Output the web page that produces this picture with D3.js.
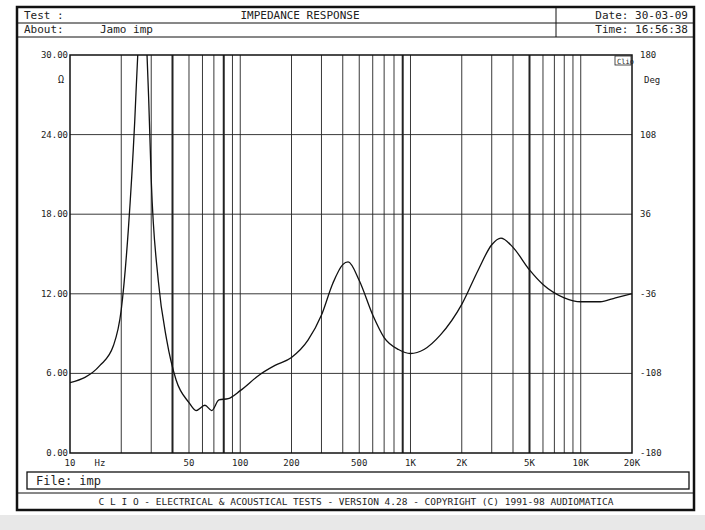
<!DOCTYPE html>
<html><head><meta charset="utf-8">
<script src="https://cdn.jsdelivr.net/npm/d3@7/dist/d3.min.js"></script>
<style>body{margin:0;background:#fff}text{font-family:"DejaVu Sans Mono",monospace;fill:#222}</style>
</head><body><div id="chart"></div>
<script>
// impedance curve (Hz, ohm)
var freqs = [10, 15, 18, 20, 22, 24, 25, 27, 29, 30, 33, 37, 42, 50, 55, 62, 68, 75, 85, 100, 130, 160, 200, 250, 300, 350, 400, 430, 500, 600, 700, 850, 1000, 1200, 1500, 2000, 2500, 3000, 3400, 4000, 5000, 6000, 8000, 10000, 13000, 16000, 20000];
var ohms = [5.3, 6.6, 8.1, 10.8, 16.8, 25, 30, 34, 26.6, 20.6, 13, 8.5, 5.5, 3.8, 3.2, 3.6, 3.2, 4.0, 4.1, 4.7, 5.9, 6.6, 7.2, 8.5, 10.4, 12.8, 14.2, 14.4, 13, 10.4, 8.7, 7.8, 7.5, 7.8, 8.9, 11.2, 13.8, 15.7, 16.2, 15.5, 13.8, 12.7, 11.7, 11.4, 11.4, 11.7, 12];
var xTicks = [10, 50, 100, 200, 500, 1000, 2000, 5000, 10000, 20000];
var xTickLabels = ["10", "50", "100", "200", "500", "1K", "2K", "5K", "10K", "20K"];
var thickLines = [40, 80, 900, 5000];
var leftTicks = [0, 6, 12, 18, 24, 30];
var rightTicks = [-180, -108, -36, 36, 108, 180];

var svg = d3.select("#chart").append("svg").attr("width", 705).attr("height", 530);
svg.append("rect").attr("x", 0).attr("y", 515).attr("width", 705).attr("height", 15).attr("fill", "#e8e8e8");
svg.append("rect").attr("x", 17).attr("y", 7).attr("width", 677).attr("height", 503)
    .attr("fill", "#fff").attr("stroke", "#111").attr("stroke-width", 2.5);

// header
svg.append("line").attr("x1", 17).attr("x2", 694).attr("y1", 23).attr("y2", 23).attr("stroke", "#111");
svg.append("line").attr("x1", 17).attr("x2", 694).attr("y1", 37).attr("y2", 37).attr("stroke", "#111");
svg.append("line").attr("x1", 556).attr("x2", 556).attr("y1", 7).attr("y2", 37).attr("stroke", "#111");
var hdr = [["Test :", 24, 19, "start"], ["IMPEDANCE RESPONSE", 300, 19, "middle"], ["About:", 24, 33, "start"],
    ["Jamo imp", 100, 33, "start"], ["Date: 30-03-09", 688, 19, "end"], ["Time: 16:56:38", 688, 33, "end"]];
hdr.forEach(function (h) {
    svg.append("text").attr("x", h[1]).attr("y", h[2]).attr("text-anchor", h[3]).attr("font-size", 11).text(h[0]);
});

var x = d3.scaleLog().domain([10, 20000]).range([70, 632]);
var y = d3.scaleLinear().domain([0, 30]).range([453, 55]);
var yr = d3.scaleLinear().domain([-180, 180]).range([453, 55]);

var g = svg.append("g");
// vertical log grid
var grid = [];
[10, 100, 1000, 10000].forEach(function (d) {
    for (var i = 1; i <= 9; i++) { if (d * i > 10 && d * i < 20000) grid.push(d * i); }
});
g.selectAll(".vg").data(grid).enter().append("line")
    .attr("x1", function (d) { return x(d); }).attr("x2", function (d) { return x(d); })
    .attr("y1", 55).attr("y2", 453).attr("stroke", "#222")
    .attr("stroke-width", function (d) { return thickLines.indexOf(d) >= 0 ? 2 : 0.9; });
g.selectAll(".hg").data(leftTicks.slice(1, 5)).enter().append("line")
    .attr("x1", 70).attr("x2", 632)
    .attr("y1", function (d) { return y(d); }).attr("y2", function (d) { return y(d); })
    .attr("stroke", "#222").attr("stroke-width", 0.9);
g.append("rect").attr("x", 70).attr("y", 55).attr("width", 562).attr("height", 398)
    .attr("fill", "none").attr("stroke", "#111").attr("stroke-width", 1.5);

// axes labels
g.selectAll(".lt").data(leftTicks).enter().append("text")
    .attr("x", 68).attr("y", function (d) { return y(d) + 3; }).attr("text-anchor", "end").attr("font-size", 9)
    .text(function (d) { return d3.format(".2f")(d); });
g.selectAll(".rt").data(rightTicks).enter().append("text")
    .attr("x", 640).attr("y", function (d) { return yr(d) + 3; }).attr("font-size", 9)
    .text(function (d) { return d; });
g.selectAll(".xt").data(xTicks).enter().append("text")
    .attr("x", function (d) { return x(d); }).attr("y", 466).attr("text-anchor", "middle").attr("font-size", 9)
    .text(function (d, i) { return xTickLabels[i]; });
g.append("text").attr("x", 100).attr("y", 466).attr("text-anchor", "middle").attr("font-size", 9).text("Hz");
g.append("text").attr("x", 58).attr("y", 83).attr("font-size", 10).text("Ω");
g.append("text").attr("x", 644).attr("y", 83).attr("font-size", 9).text("Deg");
g.append("rect").attr("x", 615).attr("y", 56).attr("width", 16).attr("height", 9).attr("fill", "#fff").attr("stroke", "#222").attr("stroke-width", 0.8);
g.append("text").attr("x", 617).attr("y", 64).attr("font-size", 7).text("Clio");

// curve
svg.append("clipPath").attr("id", "clip").append("rect").attr("x", 70).attr("y", 55).attr("width", 562).attr("height", 398);
var pts = freqs.map(function (f, i) { return [f, ohms[i]]; });
svg.append("path").datum(pts).attr("clip-path", "url(#clip)")
    .attr("d", d3.line().x(function (d) { return x(d[0]); }).y(function (d) { return y(d[1]); }).curve(d3.curveMonotoneX))
    .attr("fill", "none").attr("stroke", "#111").attr("stroke-width", 1.3);

// file box and footer
svg.append("rect").attr("x", 27).attr("y", 472).attr("width", 662).attr("height", 17)
    .attr("fill", "none").attr("stroke", "#111").attr("stroke-width", 1.3);
svg.append("text").attr("x", 36).attr("y", 485).attr("font-size", 12).text("File:  imp");
svg.append("line").attr("x1", 17).attr("x2", 694).attr("y1", 493).attr("y2", 493).attr("stroke", "#111");
svg.append("text").attr("x", 356).attr("y", 505).attr("text-anchor", "middle").attr("font-size", 9.5)
    .text("C L I O  -  ELECTRICAL & ACOUSTICAL TESTS  -  VERSION 4.28  -  COPYRIGHT (C) 1991-98 AUDIOMATICA");
</script></body></html>
